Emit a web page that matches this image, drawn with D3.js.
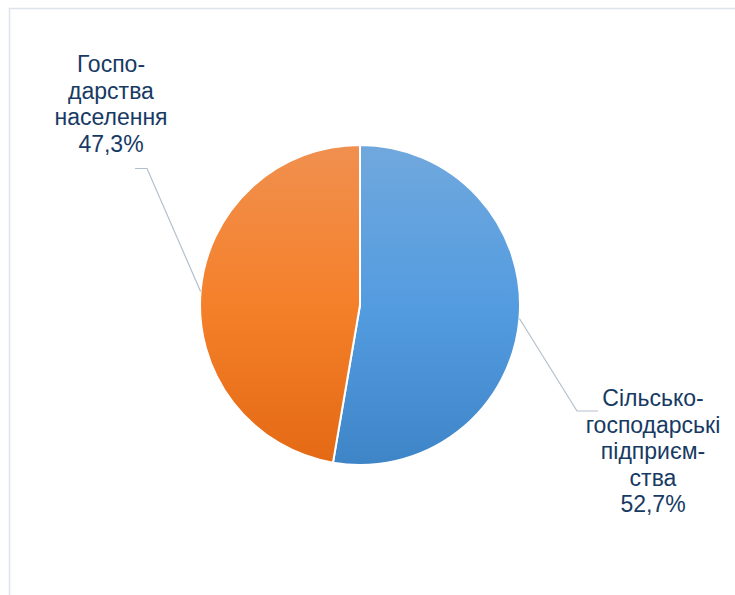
<!DOCTYPE html>
<html>
<head>
<meta charset="utf-8">
<script src="https://cdn.jsdelivr.net/npm/d3@7"></script>
<style>
  body { margin: 0; background: #fff; }
  svg { display: block; }
</style>
</head>
<body>
<div id="chart"></div>
<script>
// data
const categories = ["Сільсько-господарські підприємства", "Господарства населення"];
const values = [52.7, 47.3];
const valueLabels = ["52,7%", "47,3%"];
const labelLines = [
  ["Сільсько-", "господарські", "підприєм-", "ства", "52,7%"],
  ["Госпо-", "дарства", "населення", "47,3%"]
];

const width = 735, height = 595;
const cx = 360, cy = 305, radius = 160;

const svg = d3.select("#chart").append("svg")
    .attr("width", width)
    .attr("height", height)
    .style("font-family", "Arial, 'Liberation Sans', sans-serif");

// frame (clipped by window at right/bottom)
svg.append("rect")
    .attr("x", 9.5).attr("y", 8.5)
    .attr("width", 740).attr("height", 600)
    .attr("fill", "#fff")
    .attr("stroke", "#dde3ec")
    .attr("stroke-width", 1.5);

const defs = svg.append("defs");
const grads = [
  { id: "gBlue", stops: ["#70a8dd", "#549ce0", "#3e85c8"] },
  { id: "gOrange", stops: ["#f0904f", "#f5802a", "#e46914"] }
];
grads.forEach(g => {
  // coordinates are in the pie group's (translated) space
  const lg = defs.append("linearGradient")
      .attr("id", g.id)
      .attr("gradientUnits", "userSpaceOnUse")
      .attr("x1", 0).attr("y1", -radius)
      .attr("x2", 0).attr("y2", radius);
  g.stops.forEach((c, k) => {
    lg.append("stop").attr("offset", `${k * 50}%`).attr("stop-color", c);
  });
});

const color = d3.scaleOrdinal()
    .domain(categories)
    .range(grads.map(g => `url(#${g.id})`));

const pie = d3.pie().sort(null).value(d => d.value);
const arcs = pie(categories.map((c, i) => ({ name: c, value: values[i], i })));

const arc = d3.arc().innerRadius(0).outerRadius(radius);

const g = svg.append("g").attr("transform", `translate(${cx},${cy})`);

g.selectAll("path")
    .data(arcs)
    .join("path")
    .attr("d", arc)
    .attr("fill", d => color(d.data.name))
    .attr("stroke", "#fff")
    .attr("stroke-width", 2)
    .attr("stroke-linejoin", "round");

// label layout: knee point, end of horizontal, text center x, first baseline
const labelPos = [
  { knee: [577, 411], end: [598, 411], tx: 653, ty: 406 },
  { knee: [147, 168.5], end: [135, 168.5], tx: 111, ty: 72 }
];

arcs.forEach((d, i) => {
  const mid = (d.startAngle + d.endAngle) / 2;
  const px = cx + radius * Math.sin(mid);
  const py = cy - radius * Math.cos(mid);
  const p = labelPos[i];
  svg.append("polyline")
      .attr("points", [[px, py], p.knee, p.end].map(q => q.join(",")).join(" "))
      .attr("fill", "none")
      .attr("stroke", "#b4bfcc")
      .attr("stroke-width", 1.2);

  const t = svg.append("text")
      .attr("text-anchor", "middle")
      .attr("fill", "#173a63")
      .attr("font-size", 23);
  labelLines[i].forEach((line, j) => {
    t.append("tspan")
        .attr("x", p.tx)
        .attr("y", p.ty + j * 26.5)
        .text(line);
  });
});
</script>
</body>
</html>
